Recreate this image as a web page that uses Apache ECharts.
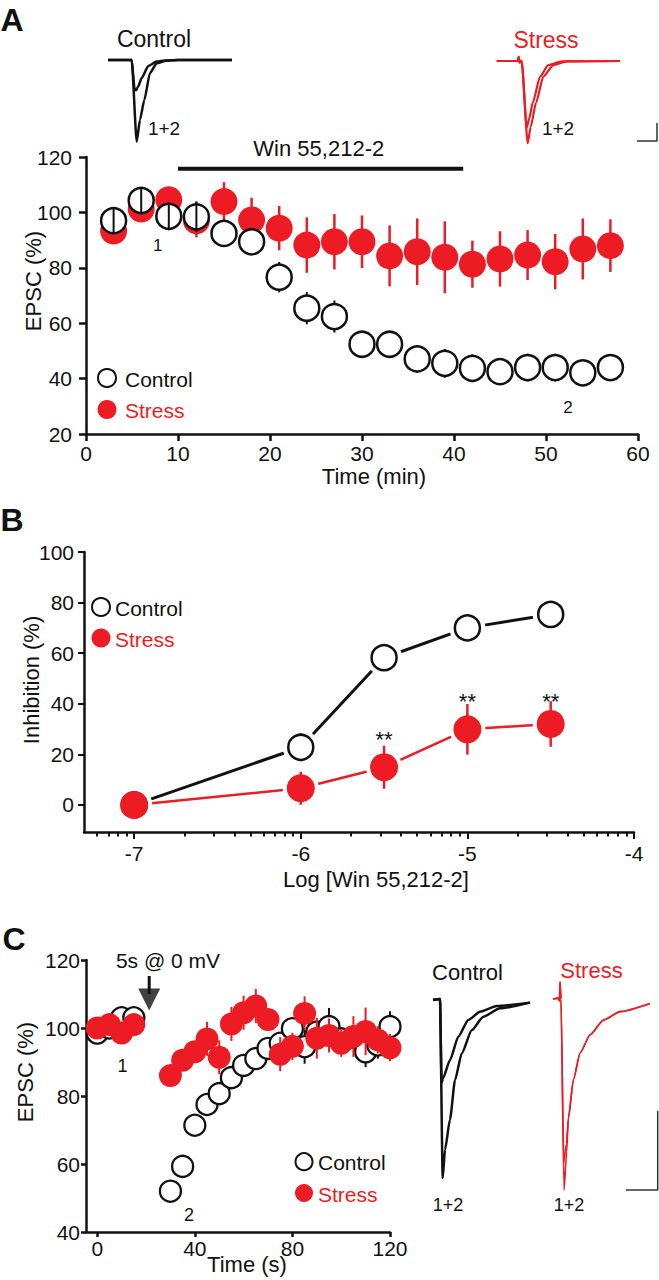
<!DOCTYPE html>
<html><head><meta charset="utf-8">
<script src="https://cdn.jsdelivr.net/npm/echarts@6/dist/echarts.min.js"></script>
<style>html,body{margin:0;padding:0;background:#fff}#c{width:659px;height:1280px}</style>
</head><body><div id="c"></div>
<script>
// ---------------- Panel A: EPSC time course ----------------
const timeA = [3,6,9,12,15,18,21,24,27,30,33,36,39,42,45,48,51,54,57];
const controlA = [97,104.3,98.6,98.4,92.4,89.4,76.6,65.4,62.4,52.4,52.4,47.1,45.5,43.7,42.5,44,44,42.1,44];
const controlErrA = [4.5,4.8,5,5.5,4,4,5.5,5.8,5.8,3,3,5,5.2,5,3,5,5,3,3];
const stressA = [93.3,101.2,104.6,97,103.9,97.3,94.3,88.2,89.4,89.4,84.3,85.8,83.8,81.3,83.2,84.6,82.2,86.8,88];
const stressErrA = [3,3,4,6,7,8,8,10,10,9.5,11,12,13,8.5,10,9,10,11,9.5];
const baselineCountA = 4;          // pre-drug points whose error bars show through the open circles
const drugTimesA = [10, 41];
const drugLevelA = 115.8;
const drugLabelA = {x: 25.3, y: 123.1, text: 'Win 55,212-2'};
const annotXA = [7.8, 52.4], annotYA = [87.9, 29.7], annotTextA = ['1', '2'];
const xTicksA = [0,10,20,30,40,50,60];
const yTicksA = [20,40,60,80,100,120];

// Example traces, panel A (time in ms-like units, current in % of peak)
const traceA_control1 = [[0,0],[23.7,0],[28.7,-100],[32,-73],[36.3,-49],[42,-16],[48.7,-4],[58,-0.8],[70,0],[124,0]];
const traceA_control2 = [[0,0],[23.7,0],[26.5,-35],[28,-37],[30,-33],[33.7,-22],[40.3,-7.3],[48.7,-2],[57,-0.5],[70,0],[124,0]];
const traceA_stress1 = [[0,0],[21,0],[22,5],[23,-2],[25,0],[31,-100],[34,-80],[39.3,-51],[46.6,-19],[56.6,-5],[70,-0.5],[123.3,0]];
const traceA_stress2 = [[0,0],[21,0],[22,5],[23,-2],[25,0],[30,-81],[32.5,-70],[36,-51],[43.3,-19],[51.6,-5],[65,-0.5],[123.3,0]];
const scaleBarA = [[140.3,-97.2],[160.3,-97.2],[160.3,-75.3]];

// ---------------- Panel B: concentration-response ----------------
const logConcB = [-7,-6,-5.5,-5,-4.5];
const controlB = [0,22.8,58.2,70,75.3];
const controlErrB = [0,5.5,2,2,2];
const stressB = [0,6.6,14.9,29.9,32];
const stressErrB = [0,6.5,8.5,10,9];
const sigXB = [-5.5,-5,-4.5], sigYB = [26,41,41], sigTextB = ['**','**','**'];
const xTicksB = [-7,-6,-5,-4];
const yTicksB = [0,20,40,60,80,100];
const minorTicksB = [];
for (let d = -8; d <= -5; d++) for (let k = 2; k <= 9; k++) {
  const v = d + Math.log10(k);
  if (v >= -7.302 && v <= -4) minorTicksB.push(v);
}

// ---------------- Panel C: DSE time course ----------------
const timeC = [0,5,10,15,30,35,40,45,50,55,60,65,70,75,80,85,90,95,100,105,110,115,120];
const controlC = [98.5,100,103,103,52,59.3,71.4,77.5,80.7,85.4,89,91,94,95.5,99.8,94.5,98.8,100.4,96.8,97.3,93,95,100.4];
const controlErrC = [2,2,2,2,2,2,2,2,2,2,2,2,2,2,3,5,3,5.5,3,3,4.5,4,4.5];
const stressC = [100,101,98.5,101,86,90.5,93,96.8,91.4,101.2,104.5,106.5,102.5,92.3,94.6,104.3,97,97.8,95.5,97.5,99,96.5,94.2];
const stressErrC = [2,2,2,2,2,3,3,5,5,5,5,5,3,5,4,5,6,5,4,6,7,4,4];
const stimTimeC = 21.3;
const annotXC = [10.4, 37.6], annotYC = [88.9, 45], annotTextC = ['1', '2'];
const xTicksC = [0,40,80,120];
const yTicksC = [40,60,80,100,120];

const traceC_control1 = [[0,0],[7,0.5],[9.7,-100],[12,-84],[17,-67],[22,-45],[28.7,-30],[38.7,-17],[50.3,-9.4],[67,-4.7],[97,-1.5]];
const traceC_control2 = [[0,0],[7,0.5],[8.6,-46.5],[10,-44],[17,-33.7],[25.3,-20.6],[35.3,-11.2],[47,-6.6],[63.7,-3.4],[97,-1.5]];
const traceC_stress1 = [[0,0],[5,0.5],[6.5,-1],[7,9],[8,0],[11,-100],[13.7,-80],[15.3,-63],[20.3,-42.4],[27,-28.3],[37,-18.8],[50.3,-11],[67,-6.6],[97,-2.3]];
const traceC_stress2 = [[0,0],[5,0.5],[6.5,-1],[7,9],[8,0],[10.7,-86],[13.3,-76],[15.5,-62],[20.5,-42],[27.3,-28],[37.3,-18.6],[50.6,-11],[67.3,-6.6],[97,-2.3]];
const scaleBarC = [[73,-100],[104.7,-100],[104.7,-58.5]];

// ---------------- helpers ----------------
const FONT = "'Liberation Sans', Arial, Helvetica, sans-serif";
const INK = '#111';
const RED = '#ed1c24';
const zip = (xs, ys) => xs.map((x,i)=>[x, ys[i]]);
const zip3 = (xs, ys, es) => xs.map((x,i)=>[x, ys[i], es[i]]);

function axis(gridIndex, min, max, o) {
  o = o || {};
  const lab = {color: INK, fontSize: o.fs || 21, fontFamily: FONT, margin: o.margin != null ? o.margin : 10};
  if (o.ticks) lab.customValues = o.ticks;
  const tick = {show: true, inside: false, length: o.tl || 7, lineStyle: {color: INK, width: o.tw || 2.5}};
  if (o.tickVals) tick.customValues = o.tickVals; else if (o.ticks) tick.customValues = o.ticks;
  const a = {type: 'value', gridIndex, min, max, position: o.pos,
    axisLine: {show: o.line !== false, onZero: false, lineStyle: {color: INK, width: 2.5}},
    axisTick: tick, axisLabel: o.noLabel ? {show: false} : lab, splitLine: {show: false}};
  if (o.interval) a.interval = o.interval;
  return a;
}
const hidden = (gridIndex, min, max) => ({type:'value', gridIndex, min, max, show:false, splitLine:{show:false}});

function errSeries(xi, yi, data, color, width, z) {
  return {type:'custom', xAxisIndex:xi, yAxisIndex:yi, z, silent:true, data, encode:{x:0, y:1}, clip:false,
    renderItem: (params, api) => {
      const x = api.value(0), y = api.value(1), e = api.value(2);
      const a = api.coord([x, y - e]), b = api.coord([x, y + e]);
      return {type:'line', shape:{x1:a[0], y1:a[1], x2:b[0], y2:b[1]}, style:{stroke:color, lineWidth:width}};
    }};
}
function markers(name, xi, yi, data, size, fill, stroke, bw, z) {
  return {name, type:'scatter', xAxisIndex:xi, yAxisIndex:yi, z, data, symbol:'circle', symbolSize:size,
    itemStyle:{color:fill, borderColor:stroke, borderWidth:bw, opacity:1}, silent:true, clip:false};
}
function labels(xi, yi, data, texts, fs, color) {
  return {type:'scatter', xAxisIndex:xi, yAxisIndex:yi, data, symbolSize:1, itemStyle:{color:'transparent'},
    clip:false, silent:true, z:20,
    label:{show:true, position:'inside', formatter:(p)=>texts[p.dataIndex], fontSize:fs, color,
      fontFamily:FONT, textBorderWidth:0, textBorderColor:'transparent', textShadowBlur:0, opacity:1}};
}
function line(xi, yi, data, color, width, z, smooth) {
  return {type:'line', xAxisIndex:xi, yAxisIndex:yi, data, symbol:'none', smooth: smooth || false,
    smoothMonotone: 'x', lineStyle:{color, width}, silent:true, clip:false, z: z || 2};
}
function txt(x, y, text, size, color, o) {
  o = o || {};
  const align = o.align || 'center';
  return {type:'text', x, y, rotation: o.rot || 0, silent:true, z:100,
    style:{text, fill:color, font:(o.bold ? 'bold ' : '') + size + 'px ' + FONT,
      align, verticalAlign:'middle', textAlign: align, textVerticalAlign:'middle'}};
}
const circ = (cx, cy, r, fill, stroke, lw) => ({type:'circle', silent:true, z:100, shape:{cx, cy, r},
  style:{fill, stroke: stroke || null, lineWidth: lw || 0}});

// axis indices [xAxisIndex, yAxisIndex]
const AX = {A:[0,0], At1:[1,1], At2:[2,2], B:[3,3], C:[5,4], Ct1:[6,5], Ct2:[7,6]};
const ctrlErrAllA = zip3(timeA, controlA, controlErrA);

// ---------------- option ----------------
const option = {
  animation: false,
  backgroundColor: '#fff',
  textStyle: {fontFamily: FONT},
  grid: [
    {left:86, top:157, width:552, height:277, outerBoundsMode:'none'},      // 0 A
    {left:108, top:55, width:124, height:90, outerBoundsMode:'none'},       // 1 A control trace
    {left:496.7, top:55, width:163.3, height:90, outerBoundsMode:'none'},   // 2 A stress trace (+ scale bar)
    {left:84, top:552, width:550, height:280, outerBoundsMode:'none'},      // 3 B
    {left:86, top:960, width:304, height:272, outerBoundsMode:'none'},      // 4 C
    {left:433, top:975, width:100, height:220, outerBoundsMode:'none'},     // 5 C control trace
    {left:553, top:975, width:105, height:222, outerBoundsMode:'none'}      // 6 C stress trace (+ scale bar)
  ],
  xAxis: [
    axis(0, 0, 60, {interval:10, margin:9, pos:'bottom'}),                 // 0
    hidden(1, 0, 124),                                                      // 1
    hidden(2, 0, 163.3),                                                    // 2
    axis(3, -7.301, -4, {ticks: xTicksB, margin:11, pos:'bottom', tw:2}),   // 3
    axis(3, -7.301, -4, {tickVals: minorTicksB, noLabel:true, line:false, tl:4.5, tw:2, pos:'bottom'}), // 4
    axis(4, -4.6, 120, {ticks: xTicksC, margin:6, pos:'bottom', tl:5}),     // 5
    hidden(5, 0, 100),                                                      // 6
    hidden(6, 0, 105)                                                       // 7
  ],
  yAxis: [
    axis(0, 20, 120, {interval:20, margin:14, pos:'left'}),                 // 0
    hidden(1, -104, 6.1),                                                   // 1
    hidden(2, -102.1, 7.3),                                                 // 2
    axis(3, -10.7, 100, {ticks: yTicksB, margin:10, pos:'left', tl:6, tw:2}), // 3
    axis(4, 40, 120, {interval:20, margin:6, pos:'left', tl:5}),            // 4
    hidden(5, -109.4, 14.0),                                                // 5
    hidden(6, -103.7, 12.6)                                                 // 6
  ],
  series: [
    // ---- Panel A
    line(...AX.A, drugTimesA.map(t => [t, drugLevelA]), INK, 4, 2),
    errSeries(...AX.A, zip3(timeA, stressA, stressErrA), RED, 2.5, 3),
    markers('Stress', ...AX.A, zip(timeA, stressA), 27, RED, RED, 0, 4),
    errSeries(...AX.A, ctrlErrAllA, INK, 2, 4),
    markers('Control', ...AX.A, zip(timeA, controlA), 25, '#fff', INK, 2.5, 5),
    errSeries(...AX.A, ctrlErrAllA.slice(0, baselineCountA), INK, 2, 6),
    labels(...AX.A, zip(annotXA, annotYA), annotTextA, 17, INK),
    labels(...AX.A, [[drugLabelA.x, drugLabelA.y]], [drugLabelA.text], 22, INK),
    line(...AX.At1, traceA_control1, INK, 2.5, 3, 0.2),
    line(...AX.At1, traceA_control2, INK, 2.5, 3, 0.2),
    line(...AX.At2, traceA_stress1, RED, 2.2, 3, 0.2),
    line(...AX.At2, traceA_stress2, RED, 2.2, 3, 0.2),
    line(...AX.At2, scaleBarA, '#333', 1.5, 3),
    // ---- Panel B
    line(...AX.B, zip(logConcB, controlB), INK, 3, 2),
    line(...AX.B, zip(logConcB, stressB), RED, 2.5, 2),
    markers('haloC', ...AX.B, zip(logConcB, controlB), 36, '#fff', '#fff', 0, 3),
    markers('haloS', ...AX.B, zip(logConcB, stressB), 36, '#fff', '#fff', 0, 3),
    errSeries(...AX.B, zip3(logConcB, controlB, controlErrB), INK, 2, 4),
    errSeries(...AX.B, zip3(logConcB, stressB, stressErrB), RED, 2.5, 4),
    markers('Control', ...AX.B, zip(logConcB, controlB), 25, '#fff', INK, 2.5, 5),
    markers('Stress', ...AX.B, zip(logConcB, stressB), 28, RED, RED, 0, 6),
    labels(...AX.B, zip(sigXB, sigYB), sigTextB, 22, INK),
    // ---- Panel C
    errSeries(...AX.C, zip3(timeC, controlC, controlErrC), INK, 2, 3),
    markers('Control', ...AX.C, zip(timeC, controlC), 21, '#fff', INK, 2.3, 4),
    errSeries(...AX.C, zip3(timeC, stressC, stressErrC), RED, 2, 5),
    markers('Stress', ...AX.C, zip(timeC, stressC), 23, RED, RED, 0, 6),
    line(...AX.C, [[stimTimeC, 115.3], [stimTimeC, 110]], INK, 3, 7),
    {type:'scatter', xAxisIndex:AX.C[0], yAxisIndex:AX.C[1], data:[[stimTimeC, 108.4]], symbol:'triangle', symbolRotate:180,
      symbolSize:[22, 22], itemStyle:{color:INK}, clip:false, silent:true, z:7},
    labels(...AX.C, zip(annotXC, annotYC), annotTextC, 18, INK),
    line(...AX.Ct1, traceC_control1, INK, 2.5, 3, 0.2),
    line(...AX.Ct1, traceC_control2, INK, 2.5, 3, 0.2),
    line(...AX.Ct2, traceC_stress1, RED, 1.6, 3, 0.2),
    line(...AX.Ct2, traceC_stress2, RED, 1.6, 3, 0.2),
    line(...AX.Ct2, scaleBarC, '#333', 1.5, 3)
  ],
  graphic: [
    txt(12, 20, 'A', 32, INK, {bold:true}),
    txt(12, 520, 'B', 32, INK, {bold:true}),
    txt(14, 939, 'C', 32, INK, {bold:true}),
    txt(154, 38.5, 'Control', 23, INK),
    txt(546, 40, 'Stress', 23, RED),
    txt(164, 128, '1+2', 19, INK),
    txt(558, 128, '1+2', 19, INK),
    txt(33, 281, 'EPSC (%)', 22, INK, {rot: Math.PI/2}),
    txt(374, 476, 'Time (min)', 22, INK),
    circ(107, 378, 9, '#fff', INK, 2),
    txt(125, 379, 'Control', 21, INK, {align:'left'}),
    circ(107, 409.5, 9.5, RED),
    txt(125, 410.5, 'Stress', 21, RED, {align:'left'}),
    txt(31.6, 680, 'Inhibition (%)', 22, INK, {rot: Math.PI/2}),
    txt(376, 879, 'Log [Win 55,212-2]', 22, INK),
    circ(101, 607, 9, '#fff', INK, 2),
    txt(115, 608, 'Control', 21, INK, {align:'left'}),
    circ(101, 638, 9.5, RED),
    txt(115, 639, 'Stress', 21, RED, {align:'left'}),
    txt(168, 960, '5s @ 0 mV', 21, INK),
    txt(25, 1072, 'EPSC (%)', 22, INK, {rot: Math.PI/2}),
    txt(247, 1264, 'Time (s)', 22, INK),
    circ(304, 1161.7, 8.5, '#fff', INK, 2),
    txt(318, 1162, 'Control', 21, INK, {align:'left'}),
    circ(304, 1193, 9, RED),
    txt(318, 1194, 'Stress', 21, RED, {align:'left'}),
    txt(467.5, 972, 'Control', 22, INK),
    txt(591.5, 970, 'Stress', 22, RED),
    txt(448, 1205, '1+2', 18, INK),
    txt(569, 1205, '1+2', 18, INK)
  ]
};

const chart = echarts.init(document.getElementById('c'), null, {renderer:'svg', width:659, height:1280});
chart.setOption(option);
</script>
</body></html>
